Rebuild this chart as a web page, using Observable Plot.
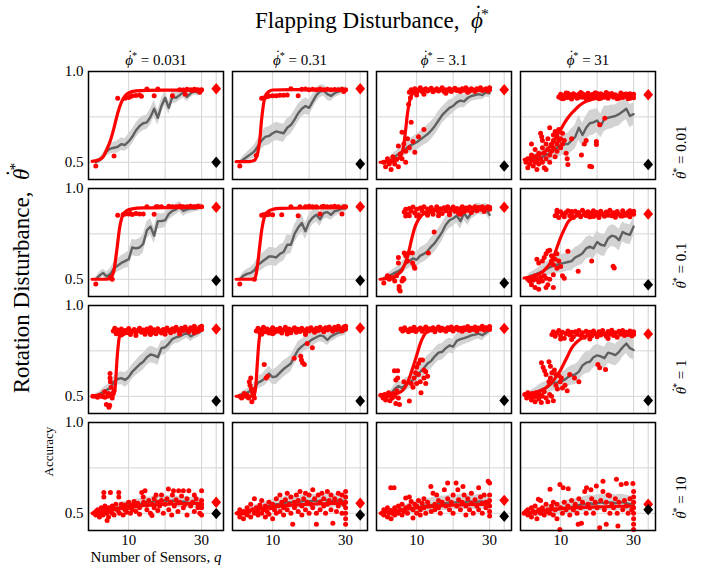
<!DOCTYPE html>
<html><head><meta charset="utf-8">
<script src="https://cdn.jsdelivr.net/npm/d3@7"></script>
<script src="https://cdn.jsdelivr.net/npm/@observablehq/plot@0.6"></script>
<style>
body{margin:0;background:#fff;}
#chart svg{display:block;font-family:'Liberation Serif',serif !important;}
#chart svg text{font-family:'Liberation Serif',serif !important;}
</style>
</head><body><div id="chart"></div>
<script>
const PHI = "\u03D5", THETA = "\u03B8";
const phiValues = ["0.031","0.31","3.1","31"];
const thetaValues = ["0.01","0.1","1","10"];
const sensors = [1,2,3,4,5,6,7,8,9,10,11,12,13,14,15,16,17,18,19,20,21,22,23,24,25,26,27,28,29,30];
const xGridValues = [10,20,30,34];
const yGridValues = [0.5,0.75,1.0];
const xTickValues = [10,30];
const yTickValues = [0.5,1.0];
const baselineQ = 34;

// gray line: mean accuracy of random sensors (panels row-major: theta rows, phi columns)
const meanAcc = [
[0.50,0.51,0.53,0.56,0.575,0.58,0.585,0.60,0.595,0.615,0.64,0.675,0.70,0.715,0.72,0.75,0.795,0.745,0.81,0.855,0.80,0.86,0.855,0.87,0.885,0.86,0.88,0.89,0.885,0.89],
[0.50,0.515,0.53,0.545,0.56,0.59,0.62,0.64,0.645,0.66,0.67,0.665,0.66,0.69,0.705,0.735,0.77,0.795,0.81,0.80,0.835,0.87,0.89,0.895,0.875,0.865,0.88,0.89,0.895,0.895],
[0.50,0.505,0.515,0.53,0.545,0.56,0.575,0.59,0.60,0.61,0.625,0.64,0.655,0.675,0.70,0.73,0.76,0.78,0.80,0.81,0.83,0.84,0.835,0.855,0.865,0.87,0.875,0.87,0.885,0.88],
[0.51,0.515,0.52,0.525,0.53,0.54,0.55,0.565,0.58,0.595,0.60,0.60,0.62,0.64,0.69,0.65,0.69,0.715,0.72,0.73,0.70,0.74,0.745,0.75,0.755,0.765,0.78,0.795,0.755,0.765],
[0.50,0.52,0.535,0.515,0.53,0.56,0.575,0.59,0.60,0.61,0.675,0.67,0.675,0.695,0.77,0.79,0.74,0.82,0.82,0.825,0.86,0.876,0.885,0.90,0.876,0.885,0.89,0.89,0.895,0.90],
[0.50,0.52,0.53,0.535,0.55,0.58,0.595,0.61,0.625,0.625,0.62,0.64,0.65,0.69,0.69,0.75,0.785,0.81,0.765,0.815,0.84,0.855,0.83,0.865,0.87,0.855,0.875,0.88,0.89,0.89],
[0.505,0.515,0.525,0.535,0.545,0.56,0.585,0.60,0.615,0.607,0.63,0.64,0.655,0.68,0.70,0.73,0.76,0.80,0.825,0.835,0.85,0.82,0.864,0.836,0.865,0.88,0.89,0.882,0.89,0.855],
[0.51,0.52,0.526,0.535,0.543,0.555,0.565,0.575,0.58,0.585,0.59,0.595,0.60,0.62,0.63,0.643,0.67,0.68,0.67,0.705,0.69,0.685,0.725,0.74,0.735,0.715,0.76,0.75,0.745,0.79],
[0.505,0.51,0.525,0.535,0.545,0.58,0.595,0.60,0.59,0.605,0.635,0.655,0.675,0.69,0.715,0.73,0.725,0.715,0.765,0.77,0.79,0.815,0.825,0.83,0.84,0.85,0.83,0.84,0.85,0.86],
[0.505,0.515,0.52,0.53,0.545,0.575,0.585,0.60,0.625,0.605,0.61,0.63,0.65,0.665,0.68,0.72,0.755,0.775,0.79,0.80,0.815,0.825,0.835,0.83,0.81,0.83,0.84,0.85,0.855,0.86],
[0.505,0.51,0.515,0.54,0.556,0.545,0.565,0.575,0.59,0.615,0.635,0.655,0.68,0.695,0.72,0.74,0.745,0.765,0.78,0.773,0.805,0.815,0.82,0.827,0.835,0.84,0.845,0.836,0.85,0.865],
[0.51,0.515,0.52,0.53,0.54,0.545,0.56,0.575,0.575,0.58,0.59,0.605,0.615,0.62,0.636,0.67,0.685,0.69,0.715,0.725,0.72,0.71,0.74,0.735,0.727,0.745,0.77,0.79,0.765,0.755],
[0.50,0.505,0.51,0.515,0.52,0.525,0.53,0.535,0.54,0.545,0.545,0.55,0.55,0.555,0.56,0.56,0.565,0.565,0.57,0.57,0.565,0.57,0.565,0.56,0.565,0.56,0.555,0.56,0.555,0.555],
[0.50,0.505,0.51,0.515,0.52,0.525,0.53,0.535,0.54,0.545,0.55,0.55,0.555,0.56,0.56,0.565,0.56,0.565,0.57,0.565,0.57,0.565,0.57,0.575,0.57,0.565,0.57,0.57,0.565,0.57],
[0.50,0.505,0.505,0.51,0.515,0.52,0.52,0.525,0.53,0.535,0.535,0.54,0.545,0.545,0.55,0.55,0.555,0.555,0.56,0.56,0.56,0.565,0.56,0.565,0.565,0.56,0.565,0.565,0.56,0.565],
[0.50,0.50,0.505,0.505,0.51,0.51,0.515,0.52,0.52,0.525,0.53,0.535,0.535,0.54,0.545,0.55,0.55,0.555,0.55,0.555,0.56,0.555,0.56,0.56,0.555,0.56,0.56,0.555,0.55,0.55]
];
// half-width of the gray band
const sdAcc = [
[0.01,0.015,0.02,0.025,0.03,0.03,0.035,0.035,0.035,0.04,0.04,0.04,0.04,0.04,0.04,0.045,0.045,0.04,0.04,0.04,0.035,0.035,0.03,0.03,0.03,0.025,0.025,0.02,0.02,0.02],
[0.01,0.02,0.025,0.03,0.035,0.04,0.045,0.05,0.05,0.05,0.05,0.05,0.05,0.05,0.05,0.05,0.05,0.045,0.045,0.045,0.04,0.04,0.035,0.03,0.035,0.03,0.025,0.025,0.02,0.02],
[0.01,0.015,0.02,0.025,0.03,0.035,0.035,0.04,0.04,0.045,0.045,0.045,0.05,0.05,0.05,0.05,0.045,0.045,0.045,0.04,0.04,0.04,0.035,0.035,0.03,0.03,0.03,0.025,0.025,0.025],
[0.02,0.025,0.03,0.035,0.04,0.045,0.05,0.05,0.055,0.06,0.06,0.06,0.065,0.065,0.07,0.065,0.065,0.07,0.07,0.065,0.065,0.07,0.065,0.065,0.06,0.065,0.06,0.06,0.065,0.06],
[0.01,0.02,0.02,0.025,0.03,0.035,0.035,0.04,0.04,0.045,0.045,0.045,0.05,0.05,0.045,0.045,0.045,0.045,0.04,0.04,0.035,0.035,0.03,0.03,0.03,0.025,0.025,0.02,0.02,0.02],
[0.01,0.02,0.025,0.03,0.035,0.04,0.045,0.045,0.05,0.05,0.05,0.05,0.05,0.055,0.05,0.05,0.05,0.05,0.045,0.045,0.04,0.04,0.04,0.035,0.035,0.03,0.03,0.025,0.025,0.02],
[0.01,0.015,0.02,0.025,0.03,0.035,0.035,0.04,0.04,0.04,0.045,0.045,0.045,0.05,0.05,0.05,0.05,0.045,0.045,0.045,0.04,0.045,0.04,0.04,0.035,0.035,0.03,0.03,0.03,0.03],
[0.015,0.02,0.025,0.03,0.035,0.04,0.04,0.045,0.045,0.05,0.05,0.05,0.055,0.055,0.055,0.06,0.06,0.06,0.06,0.06,0.06,0.06,0.06,0.06,0.06,0.06,0.055,0.055,0.055,0.05],
[0.01,0.015,0.02,0.025,0.03,0.03,0.035,0.035,0.04,0.04,0.04,0.04,0.045,0.045,0.045,0.045,0.045,0.045,0.04,0.04,0.04,0.035,0.035,0.035,0.03,0.03,0.03,0.025,0.025,0.02],
[0.01,0.015,0.02,0.025,0.03,0.035,0.035,0.04,0.04,0.04,0.045,0.045,0.045,0.045,0.045,0.045,0.045,0.04,0.04,0.04,0.04,0.035,0.035,0.035,0.03,0.03,0.03,0.025,0.025,0.025],
[0.01,0.015,0.02,0.025,0.03,0.03,0.035,0.035,0.04,0.04,0.04,0.045,0.045,0.045,0.045,0.045,0.045,0.045,0.04,0.04,0.04,0.04,0.035,0.035,0.035,0.03,0.03,0.03,0.025,0.025],
[0.015,0.02,0.025,0.03,0.035,0.035,0.04,0.045,0.045,0.05,0.05,0.05,0.055,0.055,0.055,0.055,0.06,0.06,0.06,0.06,0.06,0.06,0.06,0.06,0.06,0.06,0.055,0.055,0.055,0.055],
[0.01,0.015,0.015,0.02,0.02,0.02,0.025,0.025,0.025,0.025,0.025,0.03,0.03,0.03,0.03,0.03,0.03,0.03,0.03,0.03,0.03,0.03,0.03,0.03,0.03,0.03,0.03,0.03,0.03,0.03],
[0.01,0.015,0.02,0.02,0.025,0.025,0.025,0.03,0.03,0.03,0.03,0.03,0.035,0.035,0.035,0.035,0.035,0.035,0.035,0.035,0.035,0.035,0.035,0.035,0.035,0.035,0.035,0.035,0.035,0.035],
[0.01,0.015,0.02,0.02,0.025,0.025,0.03,0.03,0.03,0.035,0.035,0.035,0.035,0.04,0.04,0.04,0.04,0.04,0.04,0.04,0.04,0.04,0.04,0.04,0.04,0.04,0.04,0.04,0.04,0.04],
[0.01,0.015,0.02,0.02,0.025,0.025,0.03,0.03,0.03,0.035,0.035,0.04,0.04,0.04,0.04,0.04,0.045,0.045,0.045,0.045,0.045,0.045,0.045,0.045,0.045,0.045,0.045,0.045,0.045,0.045]
];
// red fitted curves [q, accuracy]
const fitCurves = [
[[0,0.505],[2,0.515],[3,0.53],[4,0.57],[5,0.62],[6,0.69],[7,0.77],[8,0.83],[9,0.865],[10,0.882],[12,0.893],[15,0.896],[20,0.897],[30,0.897]],
[[0,0.503],[3,0.503],[4,0.505],[5,0.51],[5.5,0.525],[6,0.56],[6.5,0.63],[7,0.74],[7.5,0.82],[8,0.865],[9,0.89],[10,0.898],[15,0.9],[30,0.9]],
[[0,0.5],[3,0.505],[5,0.52],[6,0.55],[6.5,0.6],[7,0.68],[7.5,0.77],[8,0.83],[8.5,0.865],[9,0.88],[10,0.89],[12,0.895],[20,0.898],[30,0.9]],
[[0,0.515],[3,0.53],[5,0.55],[7,0.585],[8,0.61],[9,0.65],[10,0.68],[11,0.715],[12,0.745],[13,0.77],[14,0.79],[15,0.81],[16,0.825],[18,0.843],[20,0.853],[23,0.862],[26,0.867],[30,0.87]],
[[0,0.5],[4,0.5],[5,0.505],[5.5,0.52],[6,0.55],[6.5,0.62],[7,0.7],[7.5,0.78],[8,0.83],[8.5,0.858],[9.5,0.878],[11,0.888],[14,0.893],[20,0.895],[30,0.896]],
[[0,0.5],[4,0.5],[5,0.503],[5.5,0.53],[6,0.6],[6.5,0.69],[7,0.77],[7.5,0.825],[8,0.855],[9,0.877],[10,0.885],[12,0.89],[20,0.893],[30,0.895]],
[[0,0.5],[2,0.505],[4,0.515],[5,0.53],[6,0.55],[7,0.595],[7.5,0.625],[8,0.665],[8.5,0.71],[9,0.75],[9.5,0.785],[10,0.81],[11,0.843],[12,0.862],[13.5,0.875],[16,0.884],[20,0.89],[30,0.895]],
[[0,0.507],[3,0.52],[5,0.54],[6,0.56],[7,0.585],[8,0.62],[9,0.675],[10,0.73],[11,0.775],[12,0.815],[13,0.835],[14,0.846],[16,0.853],[20,0.857],[30,0.86]],
[[0,0.5],[5,0.5],[5.8,0.505],[6.2,0.53],[6.5,0.6],[6.8,0.7],[7.2,0.79],[7.6,0.84],[8,0.853],[10,0.858],[15,0.862],[20,0.865],[30,0.87]],
[[0,0.5],[4.5,0.5],[5,0.51],[5.4,0.56],[5.8,0.68],[6.2,0.79],[6.6,0.845],[7,0.855],[10,0.86],[20,0.865],[30,0.87]],
[[0,0.507],[3,0.51],[5,0.518],[6,0.53],[7,0.555],[8,0.6],[9,0.66],[10,0.725],[11,0.79],[12,0.835],[13,0.857],[15,0.868],[20,0.875],[30,0.88]],
[[0,0.51],[3,0.52],[5,0.535],[6,0.547],[7,0.565],[8,0.585],[9,0.615],[10,0.645],[11,0.685],[12,0.725],[13,0.765],[14,0.79],[15,0.808],[16,0.822],[18,0.838],[21,0.847],[30,0.85]],
[[0,0.5],[5,0.52],[10,0.535],[15,0.545],[20,0.55],[30,0.555]],
[[0,0.5],[5,0.52],[10,0.535],[15,0.545],[20,0.55],[30,0.555]],
[[0,0.5],[10,0.53],[20,0.545],[30,0.55]],
[[0,0.5],[10,0.525],[20,0.535],[30,0.54]]
];
// red dots: optimized sensor sets [q, accuracy]
const redDots = [
[[1,0.48],[6,0.535],[7,0.853],[9,0.853],[10,0.857],[10.5,0.862],[11,0.866],[12,0.868],[13,0.87],[13.5,0.864],[15,0.903],[17,0.866],[18,0.903],[22,0.866],[24,0.9],[25,0.898],[25.5,0.875],[26,0.902],[27,0.9],[27.5,0.896],[28,0.902],[28.5,0.898],[29,0.9],[29.5,0.885],[30,0.9]],
[[1,0.48],[5.5,0.537],[7,0.853],[8,0.858],[8.5,0.862],[9,0.865],[10,0.867],[11,0.867],[12,0.869],[13,0.869],[14,0.87],[15,0.905],[17,0.866],[18,0.902],[19,0.903],[20,0.9],[21,0.902],[22,0.9],[23,0.903],[24,0.9],[25,0.902],[26,0.9],[27,0.901],[28,0.9],[29,0.902],[29.5,0.89],[30,0.9]],
[[1,0.5],[1.5,0.475],[2,0.52],[2.5,0.49],[3,0.505],[3,0.46],[3.5,0.53],[4,0.49],[4.5,0.515],[5,0.59],[5,0.475],[5.5,0.545],[6,0.52],[6,0.665],[6.5,0.6],[7,0.5],[7,0.56],[7.5,0.63],[8,0.58],[8.5,0.72],[9,0.615],[9.5,0.555],[10.5,0.64],[12,0.68],[7.8,0.82],[8.3,0.855],
 [8,0.885],[8.5,0.9],[9,0.893],[9.5,0.905],[10,0.887],[10.5,0.898],[11,0.91],[11.5,0.89],[12,0.9],[12.5,0.905],[13,0.892],[13.5,0.9],[14,0.908],[14.5,0.888],[15,0.897],[15.5,0.905],[16,0.893],[16.5,0.9],[17,0.91],[17.5,0.89],[18,0.9],[18.5,0.895],[19,0.905],[19.5,0.89],[20,0.9],[20.5,0.908],[21,0.895],[21.5,0.9],[22,0.89],[22.5,0.905],[23,0.897],[23.5,0.91],[24,0.9],[24.5,0.893],[25,0.905],[25.5,0.898],[26,0.89],[26.5,0.905],[27,0.9],[27.5,0.91],[28,0.895],[28.5,0.9],[29,0.905],[29.5,0.893],[30,0.9],[30,0.91],[12,0.875],[18,0.88],[24,0.885],[10,0.87]],
[[0.5,0.5],[1,0.52],[1,0.47],[1.5,0.49],[2,0.51],[2,0.54],[2.5,0.48],[3,0.5],[3,0.53],[3.5,0.46],[3.5,0.51],[4,0.49],[4,0.55],[4.5,0.52],[4.5,0.66],[4.8,0.64],[5,0.5],[5,0.58],[5.5,0.55],[5.5,0.47],[6,0.6],[6,0.52],[6.5,0.57],[6.5,0.63],[7,0.69],[7,0.54],[7,0.5],[7.5,0.6],[7.5,0.56],[8,0.65],[8,0.58],[8,0.62],[8.5,0.53],[8.5,0.67],[9,0.6],[9,0.64],[9,0.56],[9.5,0.62],[9.5,0.68],[10,0.58],[10,0.63],[10.5,0.6],[10.5,0.66],[11,0.62],[3,0.57],[2,0.6],[5,0.62],[6,0.46],[11.5,0.55],[12,0.487],[11.8,0.52],[15.7,0.54],[18,0.478],[18.5,0.475],[19.8,0.615],[19.8,0.598],[20.7,0.707],[22.1,0.743],[17,0.62],[16.5,0.6],[13,0.63],
 [9.5,0.86],[10,0.875],[10.5,0.85],[11,0.868],[11.5,0.882],[12,0.857],[12.5,0.872],[13,0.848],[13.5,0.878],[14,0.862],[14.5,0.852],[15,0.875],[15.5,0.884],[16,0.858],[16.5,0.87],[17,0.85],[17.5,0.88],[18,0.863],[18.5,0.872],[19,0.855],[19.5,0.883],[20,0.866],[20.5,0.85],[21,0.877],[21.5,0.86],[22,0.871],[22.5,0.884],[23,0.853],[23.5,0.868],[24,0.879],[24.5,0.858],[25,0.872],[25.5,0.85],[26,0.865],[26.5,0.882],[27,0.857],[27.5,0.874],[28,0.862],[28.5,0.85],[29,0.878],[29.5,0.866],[30,0.855],[30,0.875],[10,0.855],[12,0.88],[14,0.87],[16,0.878],[18,0.848],[20,0.879],[22,0.858],[24,0.866],[26,0.852],[28,0.876],[11,0.853],[13,0.865],[15,0.858],[17,0.868],[19,0.874],[21,0.853],[23,0.877],[25,0.862],[27,0.867],[29,0.853]],
[[1,0.474],[5,0.51],[5.5,0.5],[7,0.852],[8.5,0.857],[9,0.86],[10,0.86],[10.5,0.862],[11,0.857],[12,0.862],[13,0.86],[14,0.86],[15,0.9],[17,0.858],[17.5,0.9],[18,0.9],[19,0.9],[21,0.902],[22,0.9],[23,0.9],[24,0.902],[24.5,0.898],[25,0.9],[26,0.9],[27,0.902],[28,0.9],[28.5,0.898],[29,0.902],[30,0.9]],
[[1,0.474],[5,0.5],[7,0.852],[7.5,0.855],[8,0.857],[8.5,0.856],[9,0.858],[10,0.855],[12.5,0.855],[15,0.9],[17,0.85],[17.5,0.9],[19,0.9],[20,0.902],[21,0.9],[22,0.9],[23,0.86],[23.5,0.9],[24,0.902],[25,0.9],[26,0.9],[27,0.902],[28,0.9],[29,0.86],[29.5,0.9],[30,0.9]],
[[1,0.48],[2,0.52],[2.5,0.5],[3,0.51],[3.5,0.505],[4,0.49],[4.5,0.52],[5,0.59],[5,0.62],[5.2,0.445],[5.2,0.46],[5.5,0.435],[6,0.49],[6.3,0.505],[6.5,0.5],[6.6,0.645],[7,0.63],[7.5,0.6],[7.8,0.645],[8.8,0.645],[8.9,0.59],[9.3,0.57],[9.5,0.56],[13.2,0.645],[14.8,0.76],
 [6.6,0.87],[7,0.885],[7.5,0.86],[8,0.89],[8.5,0.875],[9,0.898],[9.5,0.865],[10,0.885],[10.5,0.855],[11,0.893],[11.5,0.878],[12,0.9],[12.5,0.865],[13,0.887],[13.5,0.872],[14,0.895],[14.5,0.858],[15,0.882],[15.5,0.9],[16,0.87],[16.5,0.888],[17,0.862],[17.5,0.894],[18,0.878],[18.5,0.9],[19,0.867],[19.5,0.886],[20,0.898],[20.5,0.875],[21,0.89],[21.5,0.863],[22,0.884],[22.5,0.9],[23,0.872],[23.5,0.893],[24,0.88],[24.5,0.898],[25,0.868],[25.5,0.889],[26,0.9],[26.5,0.877],[27,0.895],[27.5,0.885],[28,0.9],[28.5,0.873],[29,0.892],[29.5,0.9],[30,0.885],[30,0.897],[8,0.85],[10,0.848],[13,0.852],[16,0.85],[19,0.855],[22,0.858],[7,0.848]],
[[1,0.5],[1.5,0.49],[2,0.51],[2,0.47],[2.5,0.495],[3,0.52],[3,0.455],[3.5,0.5],[4,0.485],[4,0.445],[4.5,0.51],[5,0.49],[5,0.6],[5.5,0.62],[5.5,0.52],[6,0.505],[6,0.64],[6.5,0.655],[6.5,0.47],[7,0.66],[7,0.5],[7.5,0.63],[7.5,0.6],[8,0.58],[8,0.525],[8.5,0.61],[9,0.56],[9,0.64],[9.5,0.6],[10,0.57],[10.5,0.52],[11,0.505],[12,0.654],[14.8,0.544],[18.5,0.6],[24.4,0.572],[24.7,0.562],[4,0.59],[3.5,0.61],[6,0.455],[8,0.455],
 [8.5,0.85],[9,0.865],[9.5,0.84],[10,0.872],[10.5,0.855],[11,0.845],[11.5,0.868],[12,0.878],[12.5,0.85],[13,0.862],[13.5,0.84],[14,0.875],[14.5,0.857],[15,0.868],[15.5,0.845],[16,0.88],[16.5,0.86],[17,0.85],[17.5,0.872],[18,0.843],[18.5,0.865],[19,0.878],[19.5,0.853],[20,0.868],[20.5,0.84],[21,0.875],[21.5,0.858],[22,0.847],[22.5,0.87],[23,0.862],[23.5,0.88],[24,0.85],[24.5,0.867],[25,0.842],[25.5,0.873],[26,0.858],[26.5,0.848],[27,0.877],[27.5,0.862],[28,0.852],[28.5,0.87],[29,0.845],[29.5,0.866],[30,0.858],[30,0.875],[9,0.88],[11,0.86],[13,0.873],[15,0.855],[17,0.866],[19,0.846],[21,0.866],[23,0.853],[25,0.86],[27,0.848],[29,0.878]],
[[0.2,0.5],[1,0.5],[1.5,0.495],[2,0.505],[2.5,0.5],[3,0.498],[3.4,0.525],[3.5,0.495],[3.9,0.455],[4.2,0.5],[4.6,0.44],[4.8,0.45],[4.9,0.6],[5,0.58],[5.2,0.55],[4.9,0.625],[5.5,0.51],[5.8,0.52],[5.5,0.49],[6,0.53],[5.2,0.505],[4.5,0.515],
 [5.8,0.86],[6.2,0.875],[6.6,0.845],[7,0.865],[7.5,0.852],[8,0.87],[8.5,0.845],[9,0.862],[9.5,0.85],[10,0.873],[10.5,0.84],[11,0.858],[11.5,0.868],[12,0.848],[12.5,0.862],[13,0.875],[13.5,0.852],[14,0.865],[14.5,0.842],[15,0.87],[15.5,0.855],[16,0.878],[16.5,0.85],[17,0.866],[17.5,0.845],[18,0.872],[18.5,0.858],[19,0.848],[19.5,0.868],[20,0.855],[20.5,0.876],[21,0.862],[21.5,0.85],[22,0.872],[22.5,0.858],[23,0.88],[23.5,0.866],[24,0.852],[24.5,0.875],[25,0.862],[25.5,0.882],[26,0.868],[26.5,0.855],[27,0.878],[27.5,0.865],[28,0.885],[28.5,0.87],[29,0.858],[29.5,0.88],[30,0.868],[30,0.885],[8,0.838],[12,0.835],[16,0.84],[20,0.842],[24,0.843],[28,0.85]],
[[1,0.5],[1.5,0.49],[2.2,0.515],[2.5,0.5],[3,0.505],[3.4,0.49],[3.6,0.58],[4,0.6],[4.2,0.54],[4.5,0.52],[4.8,0.5],[5,0.49],[3.8,0.56],[4.3,0.47],[7.7,0.675],[8.2,0.6],[8.6,0.61],[15.9,0.71],[17.7,0.72],[17.9,0.70],[18.2,0.685],[18.7,0.675],[19.5,0.79],[20.9,0.767],
 [5.5,0.86],[6,0.875],[6.5,0.85],[7,0.868],[7.5,0.88],[8,0.855],[8.5,0.87],[9,0.848],[9.5,0.865],[10,0.878],[10.5,0.852],[11,0.868],[11.5,0.858],[12,0.875],[12.5,0.848],[13,0.865],[13.5,0.88],[14,0.855],[14.5,0.87],[15,0.85],[15.5,0.866],[16,0.878],[16.5,0.853],[17,0.869],[17.5,0.857],[18,0.875],[18.5,0.862],[19,0.85],[19.5,0.872],[20,0.86],[20.5,0.878],[21,0.865],[21.5,0.852],[22,0.875],[22.5,0.862],[23,0.88],[23.5,0.868],[24,0.855],[24.5,0.877],[25,0.865],[25.5,0.882],[26,0.87],[26.5,0.858],[27,0.88],[27.5,0.867],[28,0.885],[28.5,0.872],[29,0.86],[29.5,0.882],[30,0.87],[30,0.885],[7,0.842],[10,0.845],[14,0.843],[19,0.84]],
[[0.2,0.505],[0.8,0.49],[1.2,0.51],[1.5,0.48],[2,0.5],[2.3,0.52],[2.7,0.475],[3,0.505],[3.3,0.49],[3.6,0.515],[4,0.5],[4.3,0.46],[4.6,0.53],[5,0.49],[5.3,0.455],[4.3,0.59],[4.8,0.6],[4.8,0.64],[3.9,0.64],[6.5,0.58],[8,0.474],[8.5,0.57],[9.3,0.6],[9.7,0.63],[10,0.66],[10.5,0.68],[11,0.7],[11.6,0.7],[12,0.645],[12.5,0.635],[11.2,0.52],[12.5,0.57],[13,0.61],[10,0.57],[11,0.58],[10.5,0.62],[9,0.55],[12,0.6],
 [5.7,0.87],[6.2,0.86],[6.7,0.878],[7.2,0.865],[7.8,0.855],[8.3,0.872],[8.8,0.862],[9.3,0.88],[9.8,0.857],[10.3,0.868],[11,0.876],[11.5,0.858],[12,0.87],[12.5,0.882],[13,0.86],[13.5,0.872],[14,0.865],[14.5,0.878],[15,0.855],[15.5,0.87],[16,0.882],[16.5,0.862],[17,0.875],[17.5,0.866],[18,0.858],[18.5,0.878],[19,0.868],[19.5,0.882],[20,0.86],[20.5,0.872],[21,0.88],[21.5,0.865],[22,0.875],[22.5,0.858],[23,0.877],[23.5,0.868],[24,0.884],[24.5,0.862],[25,0.875],[25.5,0.868],[26,0.882],[26.5,0.86],[27,0.876],[27.5,0.87],[28,0.885],[28.5,0.865],[29,0.878],[29.5,0.872],[30,0.884],[30,0.868]],
[[0.2,0.51],[0.7,0.49],[1,0.52],[1.5,0.5],[2,0.48],[2.2,0.515],[2.6,0.495],[3,0.47],[3.2,0.52],[3.6,0.5],[4,0.485],[4.3,0.51],[4.7,0.465],[5,0.5],[5.5,0.525],[6,0.49],[6.5,0.47],[7,0.51],[7.5,0.5],[8,0.475],[4.75,0.684],[5.2,0.66],[5.6,0.64],[6,0.62],[6.8,0.69],[7.2,0.665],[7.6,0.63],[7.2,0.6],[6.8,0.58],[8.3,0.645],[8.7,0.62],[9.5,0.615],[9.9,0.58],[10.2,0.6],[11.2,0.56],[11.8,0.53],[8.7,0.56],[9.1,0.54],[10.5,0.545],[20.7,0.657],[20.2,0.675],[22.3,0.648],[15,0.58],[13.8,0.6],[12.5,0.62],
 [7.6,0.84],[8,0.855],[8.5,0.83],[9,0.848],[9.5,0.862],[10,0.835],[10.5,0.852],[11,0.82],[11.5,0.845],[12,0.86],[12.5,0.838],[13,0.852],[13.5,0.828],[14,0.855],[14.5,0.842],[15,0.862],[15.5,0.835],[16,0.85],[16.5,0.825],[17,0.858],[17.5,0.84],[18,0.852],[18.5,0.832],[19,0.86],[19.5,0.845],[20,0.828],[20.5,0.855],[21,0.838],[21.5,0.862],[22,0.845],[22.5,0.83],[23,0.857],[23.5,0.842],[24,0.863],[24.5,0.835],[25,0.85],[25.5,0.825],[26,0.858],[26.5,0.842],[27,0.862],[27.5,0.835],[28,0.852],[28.5,0.84],[29,0.86],[29.5,0.832],[30,0.855],[30,0.84],[10,0.815],[13,0.812],[18,0.815],[23,0.818]],
[[0.5,0.5],[1,0.51],[1,0.49],[1.5,0.52],[2,0.5],[2,0.48],[2.5,0.515],[2.5,0.53],[3,0.5],[3,0.49],[3.2,0.615],[3.2,0.59],[3.5,0.52],[3.5,0.54],[4,0.5],[4.1,0.46],[4.5,0.53],[4.5,0.48],[5,0.615],[5,0.51],[5.5,0.54],[5.5,0.5],[6,0.525],[6,0.49],[6.5,0.55],[7,0.515],[7.3,0.615],[7.3,0.59],[7.5,0.5],[8,0.53],[8,0.55],[8.5,0.49],[9,0.52],[9,0.545],[9.5,0.505],[10,0.53],[10,0.56],[10.5,0.5],[11,0.545],[11,0.52],[11.5,0.565],[12,0.51],[12,0.54],[12.5,0.555],[13,0.495],[13,0.53],[13.6,0.615],[14,0.59],[14.1,0.56],[14.5,0.624],[15,0.52],[15,0.545],[15.5,0.57],[16,0.5],[16.4,0.487],[16.5,0.55],[17,0.58],[17,0.53],[17.5,0.6],[18,0.56],[18,0.515],[18.5,0.54],[19,0.57],[19,0.6],[19.5,0.5],[20,0.55],[20.5,0.58],[20.9,0.634],[21,0.52],[21.5,0.56],[21.8,0.49],[22,0.6],[22.3,0.624],[22.5,0.54],[23,0.575],[23.5,0.51],[23.7,0.624],[24,0.56],[24.5,0.595],[25,0.53],[25,0.624],[25.5,0.55],[26,0.49],[26,0.58],[26.5,0.624],[27,0.54],[27.5,0.56],[28,0.6],[28,0.51],[28.5,0.58],[29,0.53],[29,0.55],[29.5,0.5],[30,0.624],[30,0.57],[30,0.53],[30,0.49],[30,0.55]],
[[0.5,0.5],[1,0.48],[1,0.52],[1.5,0.5],[2,0.51],[2,0.47],[2.5,0.5],[3,0.53],[3,0.49],[3.5,0.51],[4,0.48],[4,0.55],[4.5,0.52],[5,0.5],[5,0.58],[5.5,0.53],[6,0.49],[6,0.51],[6.5,0.545],[7,0.5],[7,0.57],[7.5,0.52],[8,0.48],[8,0.54],[8.5,0.51],[9,0.56],[9,0.495],[9.5,0.53],[10,0.55],[10,0.47],[10.5,0.52],[11,0.58],[11,0.5],[11.5,0.54],[12,0.51],[12,0.6],[12.5,0.56],[13,0.53],[13,0.49],[13.5,0.575],[14,0.52],[14,0.61],[14.5,0.55],[15,0.5],[15,0.59],[15.5,0.44],[16,0.56],[16,0.53],[16.5,0.6],[17,0.51],[17,0.57],[17.5,0.62],[18,0.54],[18,0.49],[18.5,0.58],[19,0.52],[19,0.61],[19.5,0.56],[20,0.5],[20,0.6],[20.5,0.55],[21,0.63],[21,0.53],[21.5,0.58],[22,0.44],[22,0.5],[22.5,0.6],[23,0.56],[23,0.52],[23.5,0.61],[24,0.54],[24,0.58],[24.5,0.5],[25,0.62],[25,0.55],[25.5,0.57],[26,0.52],[26,0.6],[26.5,0.445],[27,0.56],[27,0.58],[27.5,0.51],[28,0.61],[28,0.54],[28.5,0.57],[29,0.5],[29,0.6],[29.5,0.55],[30,0.44],[30,0.47],[30,0.5],[30,0.53],[30,0.56],[30,0.59],[30,0.62]],
[[0.5,0.5],[1,0.49],[1,0.52],[1.5,0.51],[2,0.48],[2,0.53],[2.5,0.5],[2.9,0.64],[3,0.515],[3,0.47],[3.5,0.5],[3.8,0.64],[4,0.53],[4,0.49],[4.5,0.51],[5,0.54],[5,0.5],[5.5,0.52],[6,0.49],[6,0.55],[6.5,0.51],[7,0.584],[7,0.53],[7.5,0.5],[8,0.54],[8,0.59],[8.5,0.565],[9,0.474],[9,0.52],[9.5,0.55],[10,0.5],[10,0.54],[10.5,0.57],[11,0.52],[11,0.49],[11.5,0.555],[12,0.53],[12,0.58],[12.5,0.5],[13,0.56],[13.5,0.54],[13.9,0.648],[14,0.51],[14.5,0.61],[15,0.55],[15,0.52],[15.5,0.6],[16,0.53],[16,0.57],[16.5,0.5],[17,0.56],[17.6,0.63],[18,0.54],[18.5,0.667],[18.5,0.58],[19,0.52],[19.5,0.56],[20,0.6],[20,0.5],[20.8,0.667],[21,0.54],[21.3,0.63],[21.5,0.575],[22,0.52],[22.5,0.56],[22.7,0.648],[23,0.6],[23.5,0.49],[23.5,0.54],[24,0.58],[24.5,0.52],[25,0.61],[25,0.555],[25.5,0.5],[26,0.575],[26.5,0.54],[27,0.64],[27,0.52],[27.5,0.59],[28,0.555],[28,0.5],[28.5,0.6],[29,0.53],[29,0.56],[29.6,0.676],[30,0.667],[30,0.6],[30,0.57],[30,0.54],[30,0.51],[30,0.485]],
[[0,0.5],[0.5,0.51],[1,0.49],[1,0.52],[1.5,0.5],[2,0.53],[2,0.48],[2.5,0.51],[3,0.5],[3,0.54],[3.5,0.47],[3.9,0.577],[4,0.52],[4.5,0.57],[4.5,0.5],[5,0.53],[5.5,0.49],[6,0.55],[6,0.51],[6.5,0.52],[7,0.5],[7.1,0.632],[7.5,0.54],[8,0.49],[8,0.56],[8.5,0.52],[9,0.55],[9,0.47],[9.8,0.659],[9.8,0.41],[10,0.53],[10.5,0.5],[10.7,0.64],[11,0.56],[11.5,0.52],[12,0.54],[12.1,0.635],[12.5,0.49],[13,0.57],[13.5,0.52],[14,0.55],[14.5,0.5],[14.8,0.44],[15,0.58],[15.5,0.53],[15.7,0.445],[16,0.56],[16.6,0.62],[17,0.5],[17.1,0.64],[17.5,0.55],[18,0.53],[18.3,0.63],[18.5,0.58],[19,0.5],[19.5,0.56],[19.8,0.65],[20,0.53],[20.7,0.42],[21,0.57],[21.6,0.677],[21.6,0.62],[22,0.52],[22.5,0.44],[22.5,0.56],[23,0.6],[23.4,0.597],[23.5,0.5],[24,0.55],[24.5,0.53],[25,0.58],[25.3,0.687],[25.5,0.5],[25.7,0.43],[26,0.56],[26.6,0.659],[27,0.52],[27.5,0.57],[28,0.664],[28,0.54],[28.5,0.5],[29,0.58],[29.5,0.52],[29.8,0.664],[30,0.62],[30,0.59],[30,0.56],[30,0.53],[30,0.5],[30,0.47],[30,0.44],[30,0.41]]
];
const redDiamond = [0.905,0.905,0.90,0.872, 0.897,0.90,0.897,0.86, 0.871,0.876,0.873,0.843, 0.56,0.555,0.571,0.549];
const blackDiamond = [0.50,0.49,0.48,0.487, 0.493,0.493,0.48,0.47, 0.474,0.474,0.477,0.477, 0.498,0.49,0.484,0.52];

// build tables
const bandData = [], dotData = [], fitData = [], redDia = [], blackDia = [];
thetaValues.forEach((theta, r) => phiValues.forEach((phi, c) => {
  const k = r * 4 + c;
  sensors.forEach((q, i) => bandData.push({phi, theta, q, m: meanAcc[k][i], lo: meanAcc[k][i] - sdAcc[k][i], hi: meanAcc[k][i] + sdAcc[k][i]}));
  redDots[k].forEach(([q, a]) => dotData.push({phi, theta, q, a}));
  fitCurves[k].forEach(([q, a]) => fitData.push({phi, theta, q, a}));
  redDia.push({phi, theta, q: baselineQ, a: redDiamond[k]});
  blackDia.push({phi, theta, q: baselineQ, a: blackDiamond[k]});
}));

const diamondSymbol = {draw(ctx, size) {
  const s = Math.sqrt(size), h = s * 0.6, w = s * 0.51;
  ctx.moveTo(0, -h); ctx.lineTo(w, 0); ctx.lineTo(0, h); ctx.lineTo(-w, 0); ctx.closePath();
}};

const colHeads = phiValues.map(p => ({phi: p, theta: thetaValues[0], t: `${PHI}* = ${p}`}));
const rowHeads = thetaValues.map(t => ({phi: phiValues[3], theta: t, t: `${THETA}* = ${t}`}));
const xLabel = [{phi: phiValues[0], theta: thetaValues[3], t: "Number of Sensors, q"}];
const yLabel = [{phi: phiValues[0], theta: thetaValues[3], t: "Accuracy"}];

const chart = Plot.plot({
  width: 704, height: 573,
  marginTop: 70, marginBottom: 41, marginLeft: 87, marginRight: 49,
  style: {fontFamily: "'Liberation Serif', serif", fontSize: "15px", background: "white", color: "black"},
  fx: {domain: phiValues, padding: 0.065, axis: null},
  fy: {domain: thetaValues, padding: 0.076, axis: null},
  x: {domain: [-1, 36], ticks: xTickValues, tickSize: 0, tickPadding: 4, label: null},
  y: {domain: [0.405, 1.0], ticks: yTickValues, tickFormat: d3.format(".1f"), tickSize: 0, tickPadding: 5, label: null},
  marks: [
    Plot.ruleX(xGridValues, {stroke: "#d4d4d4", strokeWidth: 1}),
    Plot.ruleY(yGridValues, {stroke: "#d4d4d4", strokeWidth: 1}),
    Plot.areaY(bandData, {x: "q", y1: "lo", y2: "hi", fx: "phi", fy: "theta", fill: "#d3d3d3"}),
    Plot.lineY(bandData, {x: "q", y: "m", fx: "phi", fy: "theta", stroke: "#606060", strokeWidth: 2.4}),
    Plot.dot(dotData, {x: "q", y: "a", fx: "phi", fy: "theta", r: 2.5, fill: "#ff0000"}),
    Plot.line(fitData, {x: "q", y: "a", fx: "phi", fy: "theta", stroke: "#ff0000", strokeWidth: 3.2, curve: "monotone-x"}),
    Plot.dot(redDia, {x: "q", y: "a", fx: "phi", fy: "theta", r: 5.4, symbol: diamondSymbol, fill: "#ff0000"}),
    Plot.dot(blackDia, {x: "q", y: "a", fx: "phi", fy: "theta", r: 5.4, symbol: diamondSymbol, fill: "black"}),
    Plot.frame({stroke: "black", strokeWidth: 1.5}),
    Plot.text(colHeads, {fx: "phi", fy: "theta", text: "t", frameAnchor: "top", dy: -17, fontSize: 15}),
    Plot.text(rowHeads, {fx: "phi", fy: "theta", text: "t", frameAnchor: "right", dx: 26, rotate: -90, fontSize: 15}),
    Plot.text(xLabel, {fx: "phi", fy: "theta", text: "t", frameAnchor: "bottom", dy: 31, fontSize: 15}),
    Plot.text(yLabel, {fx: "phi", fy: "theta", text: "t", frameAnchor: "left", dx: -40, rotate: -90, fontSize: 13})
  ]
});
document.getElementById("chart").appendChild(chart);

// greek letter with a dot accent and a superscript star
function dotted(sel, greek, fs) {
  sel.append("tspan").attr("font-style", "italic").text(greek);
  sel.append("tspan").attr("dx", -fs * 0.36).attr("dy", -fs * 0.32).text("\u02D9");
  sel.append("tspan").attr("dx", -fs * 0.05).attr("dy", -fs * 0.08).attr("font-size", fs * 0.68).text("*");
}
const svg = d3.select(chart);
svg.selectAll("text").each(function() {
  const t = this.textContent;
  const m = t.match(/^(.)\* = (.+)$/);
  const sel = d3.select(this);
  if (m) {
    sel.text(null);
    dotted(sel, m[1], 15);
    sel.append("tspan").attr("dy", 15 * 0.4).text(" = " + m[2]);
  } else if (t === "Number of Sensors, q") {
    sel.text(null);
    sel.append("tspan").text("Number of Sensors, ");
    sel.append("tspan").attr("font-style", "italic").text("q");
  }
});
const title = svg.append("text").attr("x", 372).attr("y", 28).attr("text-anchor", "middle")
  .attr("font-size", 23).attr("fill", "black");
title.append("tspan").text("Flapping Disturbance,  ");
dotted(title, PHI, 23);
const side = svg.append("text").attr("transform", "translate(29,278) rotate(-90)").attr("text-anchor", "middle")
  .attr("font-size", 23).attr("fill", "black");
side.append("tspan").text("Rotation Disturbance,  ");
dotted(side, THETA, 23);
</script>
</body></html>
